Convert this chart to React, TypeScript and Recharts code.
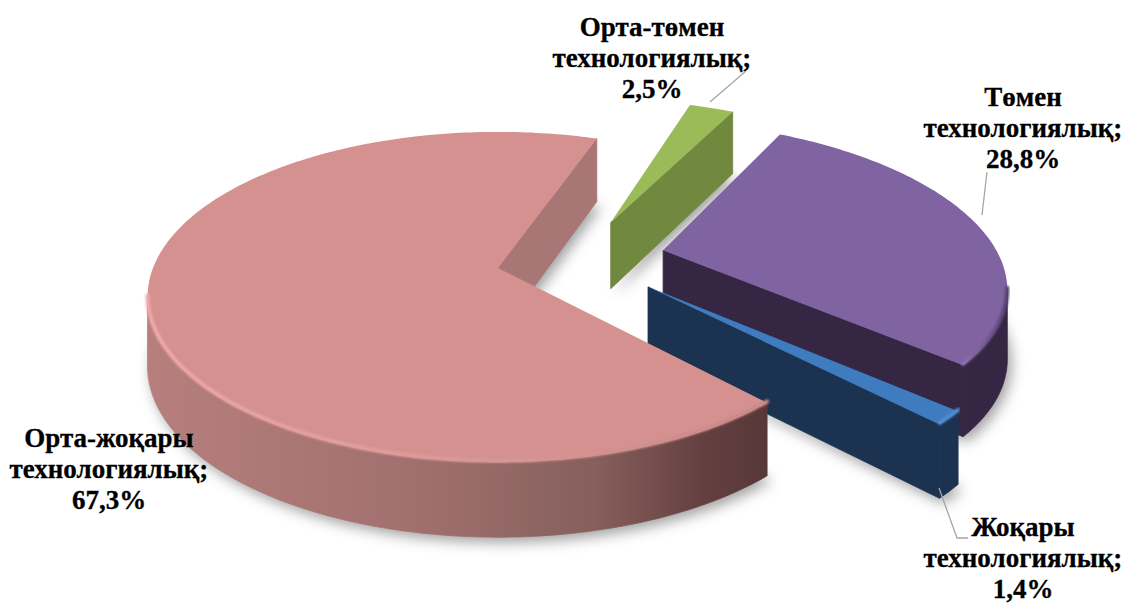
import { PieChart, Pie } from 'recharts';

// values
const categories = ['Орта-төмен', 'Төмен', 'Жоқары', 'Орта-жоқары'];
const shares = [2.5, 28.8, 1.4, 67.3];
const shareLabels = ['2,5%', '28,8%', '1,4%', '67,3%'];
const data = categories.map((name, i) => ({ name, value: shares[i] }));

const TOP = ['#9bbb59', '#8063a1', '#3f7cbf', '#d49190'];
const EDGE = ['#71883f', '#352744', '#1b3350', '#a87675'];
const WALL = [
  [[0, '#71883f'], [1, '#71883f']],
  [[0, '#352744'], [1, '#352744']],
  [[0, '#1b3350'], [1, '#1b3350']],
  [[0, '#b67f7d'], [0.45, '#a06f6d'], [0.72, '#85605c'], [0.9, '#643f40'], [1, '#573838']],
];
const RIM = [
  ['#a9c968', '#a9c968'],
  ['#8f72b3', '#54406e'],
  ['#4f8dd0', '#4f8dd0'],
  ['#efaaa8', '#c98786'],
];

// explode offsets of each slice on the pie plane
const EXPLODE = [[0.344, -0.299], [0.488, -0.113], [0.426, 0.115], [0, 0]];
const SCALE = [1, 0.985, 0.98, 1];
const PERSP = 0.176;
const TILT = 0.464;
const DEPTH = 68;

const LABEL_X = [652, 1023, 1023, 109];
const LABEL_Y = [36, 106, 536, 447];
const LEADERS = [
  '710,102 746,71',
  '982,215 987,172',
  '939,488 957,538 968,538',
  '',
];

const rad = Math.PI / 180;

function toPath(pts: number[][]) {
  return 'M' + pts.map((p) => p[0].toFixed(1) + ',' + p[1].toFixed(1)).join('L') + 'Z';
}

function geometry(props: any) {
  const { cx, cy, outerRadius: R, startAngle, endAngle, index } = props;
  const [ox, oz] = EXPLODE[index];
  const project = (u: number, v: number) => {
    const s = 1 / (1 - PERSP * v);
    return [cx + R * u * s, cy + R * TILT * v * s, s];
  };
  const at = (deg: number) =>
    project(ox + SCALE[index] * Math.cos(deg * rad), oz - SCALE[index] * Math.sin(deg * rad));
  const drop = (p: number[]) => [p[0], p[1] + DEPTH * Math.sqrt(p[2])];
  const steps = Math.max(2, Math.ceil(Math.abs(endAngle - startAngle)));
  const angles: number[] = [];
  for (let i = 0; i <= steps; i++) angles.push(startAngle + ((endAngle - startAngle) * i) / steps);
  return { at, drop, angles, apex: project(ox, oz), startAngle, endAngle };
}

function ShadowShape(props: any) {
  const { at, drop, angles, apex } = geometry(props);
  const pts = [drop(apex), ...angles.map((a) => drop(at(a)))].map((p) => [p[0] + 4, p[1] + 5]);
  return <path d={toPath(pts)} fill="#000" fillOpacity={0.38} filter="url(#softShadow)" />;
}

function SliceShape(props: any) {
  const { index } = props;
  const { at, drop, angles, apex, startAngle, endAngle } = geometry(props);
  const rim = angles.map((a) => at(a));

  // outer wall: only where the rim runs right to left (faces the viewer)
  const front: number[][] = [];
  for (let i = 1; i < rim.length; i++) {
    if (rim[i][0] < rim[i - 1][0] && rim[i][1] > apex[1] - 60) {
      if (!front.length) front.push(rim[i - 1]);
      front.push(rim[i]);
    }
  }
  const wall = front.length ? toPath([...front, ...front.map(drop).reverse()]) : '';

  // straight cut faces
  const cut = (deg: number) => {
    const p = at(deg);
    return toPath([apex, p, drop(p), drop(apex)]);
  };
  const startP = at(startAngle);
  const endP = at(endAngle);

  return (
    <g>
      <defs>
        <linearGradient id={'wall' + index} x1="0" y1="0" x2="1" y2="0">
          {WALL[index].map((s: any) => (
            <stop key={s[0]} offset={s[0]} stopColor={s[1]} />
          ))}
        </linearGradient>
        <linearGradient id={'rim' + index} x1="0" y1="0" x2="1" y2="0">
          <stop offset="0" stopColor={RIM[index][0]} />
          <stop offset="1" stopColor={RIM[index][1]} />
        </linearGradient>
      </defs>
      {wall && <path d={wall} fill={`url(#wall${index})`} stroke={`url(#wall${index})`} strokeWidth={0.8} />}
      {startP[0] < apex[0] && <path d={cut(startAngle)} fill={EDGE[index]} stroke={EDGE[index]} strokeWidth={0.8} />}
      {endP[0] > apex[0] && <path d={cut(endAngle)} fill={EDGE[index]} stroke={EDGE[index]} strokeWidth={0.8} />}
      <path d={toPath([apex, ...rim])} fill={TOP[index]} />
      {front.length > 0 && (
        <polyline
          points={front.map((p) => p[0].toFixed(1) + ',' + (p[1] - 1.5).toFixed(1)).join(' ')}
          fill="none"
          stroke={`url(#rim${index})`}
          strokeWidth={4}
          strokeLinecap="round"
          filter="url(#softRim)"
        />
      )}
    </g>
  );
}

function SliceLabel(props: any) {
  const { index } = props;
  const x = LABEL_X[index];
  const y = LABEL_Y[index];
  return (
    <g>
      {LEADERS[index] && <polyline points={LEADERS[index]} fill="none" stroke="#a6a6a6" strokeWidth={1.3} />}
      <text
        x={x}
        y={y}
        textAnchor="middle"
        fontFamily="'Liberation Serif', serif"
        fontWeight="bold"
        fontSize={27}
        fill="#000"
        stroke="#000"
        strokeWidth={0.3}
      >
        <tspan x={x}>{categories[index]}</tspan>
        <tspan x={x} dy={31}>технологиялық;</tspan>
        <tspan x={x} dy={31}>{shareLabels[index]}</tspan>
      </text>
    </g>
  );
}

export default function App() {
  return (
    <div style={{ position: 'absolute', left: 0, top: 0, width: 1126, height: 604, overflow: 'hidden', background: '#fff' }}>
      <PieChart width={1126} height={604} margin={{ top: 0, right: 0, bottom: 0, left: 0 }}>
        <defs>
          <filter id="softShadow" x="-20%" y="-20%" width="140%" height="140%">
            <feGaussianBlur stdDeviation="7" />
          </filter>
          <filter id="softRim" x="-5%" y="-20%" width="110%" height="140%">
            <feGaussianBlur stdDeviation="1" />
          </filter>
        </defs>
        <Pie
          data={data}
          dataKey="value"
          cx={498}
          cy={268}
          outerRadius={345}
          startAngle={70.5}
          endAngle={-289.5}
          stroke="none"
          isAnimationActive={false}
          shape={ShadowShape}
        />
        <Pie
          data={data}
          dataKey="value"
          cx={498}
          cy={268}
          outerRadius={345}
          startAngle={70.5}
          endAngle={-289.5}
          stroke="none"
          isAnimationActive={false}
          shape={SliceShape}
          label={SliceLabel}
          labelLine={false}
        />
      </PieChart>
    </div>
  );
}
